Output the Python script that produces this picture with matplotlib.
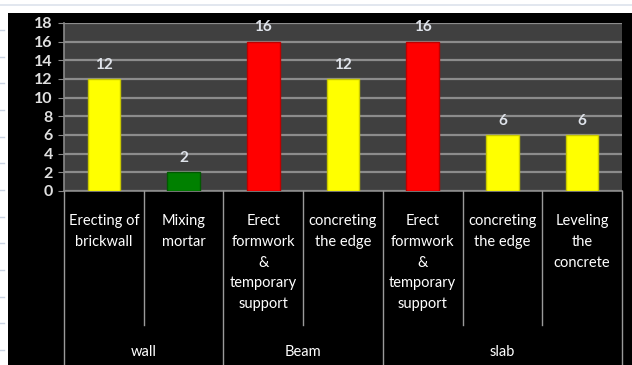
import matplotlib
matplotlib.use("Agg")
import matplotlib.pyplot as plt
from matplotlib.patches import Rectangle
from matplotlib.lines import Line2D
import matplotlib.transforms as mtransforms

plt.rcParams['font.family'] = ['Lato', 'DejaVu Sans']

categories = ["Erecting of\nbrickwall", "Mixing\nmortar",
              "Erect\nformwork\n&\ntemporary\nsupport", "concreting\nthe edge",
              "Erect\nformwork\n&\ntemporary\nsupport", "concreting\nthe edge",
              "Leveling\nthe\nconcrete"]
groups = ["wall", "Beam", "slab"]
group_sizes = [2, 2, 3]
values = [12, 2, 16, 12, 16, 6, 6]
bar_colors = ["#ffff00", "#008000", "#ff0000", "#ffff00", "#ff0000", "#ffff00", "#ffff00"]
edge_colors = ["#c8c800", "#005a00", "#c00000", "#c8c800", "#c00000", "#c8c800", "#c8c800"]
yticks = list(range(0, 19, 2))

W, H = 632, 365
fig = plt.figure(figsize=(W / 100, H / 100), dpi=100)
fig.patch.set_facecolor("white")

# faint spreadsheet lines
fig.add_artist(Line2D([0, 1], [1 - 5 / H, 1 - 5 / H], color="#dde3ec", lw=1.2,
                      transform=fig.transFigure))
for yy in [30, 57, 83, 110, 137, 163, 190, 217, 243, 270, 297, 323, 350]:
    fig.add_artist(Line2D([0, 4 / W], [1 - yy / H, 1 - yy / H], color="#c9d3e3", lw=1,
                          transform=fig.transFigure))
# black chart area
fig.add_artist(Rectangle((8 / W, 0), 1 - 8 / W, 1 - 13 / H, transform=fig.transFigure,
                         facecolor="black", edgecolor="none", zorder=0))

left, right, top, bottom = 64, 622, 23, 191
ax = fig.add_axes([left / W, 1 - bottom / H, (right - left) / W, (bottom - top) / H])
ax.set_facecolor("#404040")
n = len(values)
x = list(range(n))
ax.bar(x, values, width=0.41, color=bar_colors, edgecolor=edge_colors, linewidth=1, zorder=3)
for xi, v in zip(x, values):
    ax.text(xi, v + 1.55, str(v), ha="center", va="center", color="#dfe3ea",
            fontsize=11, fontweight="bold", zorder=4)

ax.set_xlim(-0.5, n - 0.5)
ax.set_ylim(0, 18)
ax.set_yticks(yticks)
ax.set_yticklabels([str(t) for t in yticks], color="#e0e0e0", fontsize=11.5, fontweight="bold")
ax.yaxis.grid(True, color="#8c8c8c", lw=1.6, zorder=1)
ax.set_axisbelow(True)
ax.set_xticks([])
ax.tick_params(axis="y", length=4, color="#8a8a8a", pad=4)
for s in ["top", "right"]:
    ax.spines[s].set_visible(False)
ax.spines["left"].set_color("#8a8a8a")
ax.spines["bottom"].set_color("#8a8a8a")
ax.spines["left"].set_linewidth(1.2)
ax.spines["bottom"].set_linewidth(1.2)

trans = mtransforms.blended_transform_factory(ax.transData, fig.transFigure)
def fy(py):
    return 1 - py / H

# category labels
for xi, lab in zip(x, categories):
    ax.text(xi, fy(214), lab, transform=trans, ha="center", va="top", color="white",
            fontsize=10.5, linespacing=1.62, clip_on=False)

# dividers
bounds = [b - 0.5 for b in range(n + 1)]
group_edges = [-0.5]
acc = -0.5
for gs in group_sizes:
    acc += gs
    group_edges.append(acc)
for b in bounds:
    is_group = any(abs(b - g) < 1e-9 for g in group_edges)
    y_end = H if is_group else 325
    fig.add_artist(Line2D([b, b], [fy(bottom), fy(y_end)], transform=trans,
                          color="#9a9a9a", lw=1.0))

# group labels
start = -0.5
for g, gs in zip(groups, group_sizes):
    ax.text(start + gs / 2, fy(352), g, transform=trans, ha="center", va="center",
            color="white", fontsize=10.5, clip_on=False)
    start += gs

fig.savefig("out.png", dpi=100, facecolor=fig.get_facecolor())
